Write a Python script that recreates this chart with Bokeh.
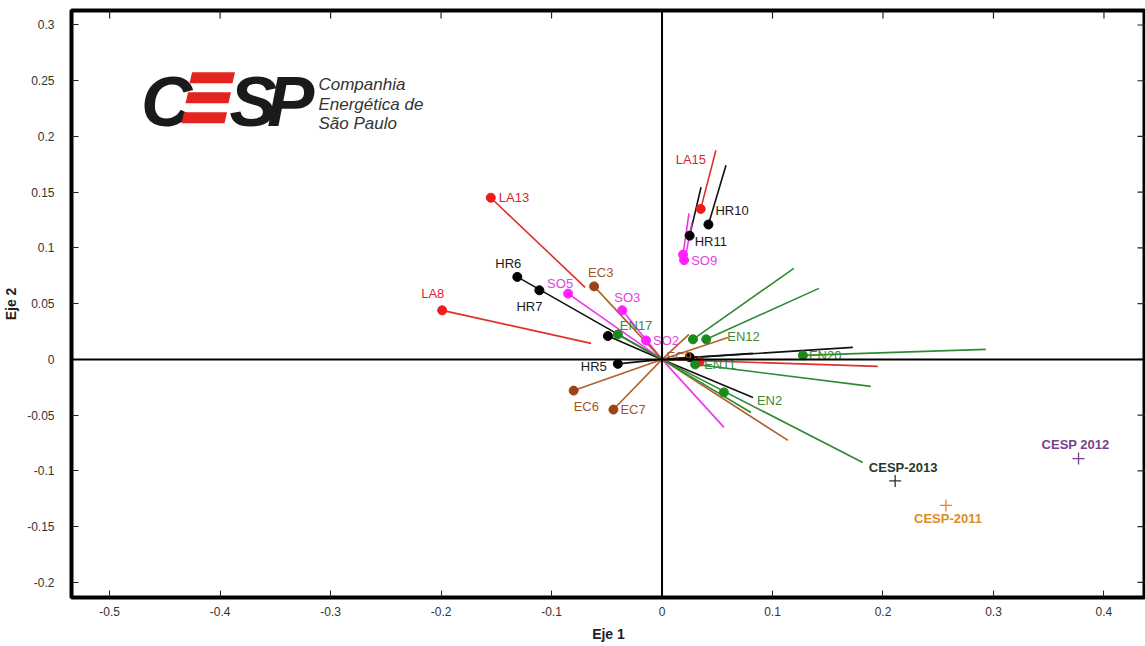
from bokeh.plotting import figure
from bokeh.models import Range1d, FixedTicker, Span, ColumnDataSource
from bokeh.core.properties import value
from bokeh.embed import file_html
from bokeh.resources import INLINE

# ---------------- data ----------------
x_ticks = [-0.5, -0.4, -0.3, -0.2, -0.1, 0, 0.1, 0.2, 0.3, 0.4]
x_tick_labels = ["-0.5", "-0.4", "-0.3", "-0.2", "-0.1", "0", "0.1", "0.2", "0.3", "0.4"]
y_ticks = [-0.2, -0.15, -0.1, -0.05, 0, 0.05, 0.1, 0.15, 0.2, 0.25, 0.3]
y_tick_labels = ["-0.2", "-0.15", "-0.1", "-0.05", "0", "0.05", "0.1", "0.15", "0.2", "0.25", "0.3"]

point_labels = ["LA13", "LA8", "LA15", "",
                "HR6", "HR7", "HR5", "HR10", "HR11", "", "",
                "SO5", "SO3", "SO2", "", "SO9",
                "EC3", "EC6", "EC7",
                "EN17", "", "EN12", "EN11", "EN20", "EN2"]
point_group = ["LA", "LA", "LA", "LA",
               "HR", "HR", "HR", "HR", "HR", "HR", "HR",
               "SO", "SO", "SO", "SO", "SO",
               "EC", "EC", "EC",
               "EN", "EN", "EN", "EN", "EN", "EN"]
point_x = [-0.155, -0.199, 0.035, 0.034,
           -0.131, -0.111, -0.040, 0.042, 0.025, -0.049, 0.025,
           -0.085, -0.036, -0.0145, 0.019, 0.020,
           -0.0615, -0.080, -0.044,
           -0.040, 0.028, 0.040, 0.030, 0.1275, 0.056]
point_y = [0.145, 0.044, 0.135, -0.002,
           0.074, 0.062, -0.004, 0.121, 0.111, 0.021, 0.002,
           0.059, 0.044, 0.017, 0.094, 0.089,
           0.0655, -0.028, -0.045,
           0.0224, 0.018, 0.018, -0.0045, 0.0036, -0.0296]

extra_labels = ["EC9"]
extra_group = ["EC"]
extra_x = [0.004]
extra_y = [0.003]

seg_group = ["LA", "LA", "LA", "LA",
             "HR", "HR", "HR", "HR", "HR", "HR", "HR", "HR",
             "SO", "SO", "SO", "SO", "SO", "SO",
             "EC", "EC", "EC", "EC", "EC", "EC",
             "EN", "EN", "EN", "EN", "EN", "EN", "EN"]
seg_x0 = [-0.155, -0.199, 0.035, 0.0,
          -0.131, -0.049, -0.040, 0.025, 0.042, 0.0, 0.0, 0.0,
          -0.085, -0.036, -0.0145, 0.0, 0.019, 0.0208,
          -0.0615, -0.080, -0.044, 0.0, 0.0, 0.0,
          -0.040, 0.028, 0.040, 0.1275, 0.030, 0.0, 0.0]
seg_y0 = [0.145, 0.044, 0.135, 0.0,
          0.074, 0.021, -0.004, 0.111, 0.121, 0.0, 0.0, 0.0,
          0.059, 0.044, 0.017, 0.0, 0.094, 0.0898,
          0.0655, -0.028, -0.045, 0.0, 0.0, 0.0,
          0.0224, 0.018, 0.018, 0.0036, -0.0045, 0.0, 0.0]
seg_x1 = [-0.0696, -0.0642, 0.0488, 0.1953,
          0.0, 0.0, 0.0, 0.0353, 0.0579, 0.1727, 0.0823, 0.0823,
          0.0, 0.0, 0.0, 0.0561, 0.0244, 0.0271,
          0.0, 0.0, 0.0, 0.0244, 0.0597, 0.114,
          0.0, 0.1193, 0.142, 0.293, 0.189, 0.0805, 0.1817]
seg_y1 = [0.0646, 0.0144, 0.1876, -0.0063,
          0.0, 0.0, 0.0, 0.1544, 0.1741, 0.0108, 0.0054, -0.0341,
          0.0, 0.0, 0.0, -0.061, 0.131, 0.123,
          0.0, 0.0, 0.0, 0.0224, 0.0197, -0.0727,
          0.0, 0.0817, 0.0637, 0.009, -0.0242, -0.0476, -0.0925]

cesp_labels = ["CESP-2011", "CESP 2012", "CESP-2013"]
cesp_x = [0.257, 0.377, 0.211]
cesp_y = [-0.131, -0.089, -0.109]

# ---------------- styles ----------------
line_colors = {"LA": "#e0302a", "HR": "#111111", "SO": "#ee33ee", "EC": "#b0602a", "EN": "#2f8a35"}
dot_colors = {"LA": "#ee1c1c", "HR": "#000000", "SO": "#ff22ff", "EC": "#9c4416", "EN": "#1b8a1b"}
text_colors = {"LA": "#d8262e", "HR": "#1a1a1a", "SO": "#dd44dd", "EC": "#a0582a", "EN": "#3c8a3c"}
cesp_colors = {"CESP-2011": "#de8c1e", "CESP 2012": "#7a3f8c", "CESP-2013": "#1f3a2a"}
cesp_text_colors = {"CESP-2011": "#de8c1e", "CESP 2012": "#7a3f8c", "CESP-2013": "#243a2c"}

label_offsets = {  # pixels (dx, dy) with dy positive downward
    "LA13": (8, 0), "LA8": (-21, -17), "LA15": (-25, -49),
    "HR6": (-22, -13), "HR7": (-23, 16), "HR5": (-37, 3), "HR10": (7, -14), "HR11": (5, 6),
    "SO5": (-21, -10), "SO3": (-8, -13), "SO2": (7, 0), "SO9": (7, 0),
    "EC3": (-6, -14), "EC6": (0, 16), "EC7": (7, 0), "EC9": (0, 0),
    "EN17": (2, -9), "EN12": (21, -3), "EN11": (9, 0), "EN20": (6, 0), "EN2": (33, 8),
}
cesp_offsets = {"CESP-2011": (2, 13), "CESP 2012": (-3, -14), "CESP-2013": (8, -13)}

FONT = "Liberation Sans"
X0, X1 = -0.5345, 0.4376
Y0, Y1 = -0.2136, 0.313
W, H = 1145, 646
FL, FB, FT = 70, 49, 10
TICK_PX = 8
px_x = (X1 - X0) / (W - FL)        # data units per pixel, horizontally
px_y = (Y1 - Y0) / (H - FB - FT)   # data units per pixel, vertically

p = figure(width=W, height=H, output_backend="svg", toolbar_location=None,
           x_range=Range1d(X0, X1), y_range=Range1d(Y0, Y1),
           min_border_left=FL, min_border_right=0, min_border_top=FT, min_border_bottom=FB,
           background_fill_color="white", border_fill_color="white")
p.grid.visible = False
p.outline_line_color = "black"
p.outline_line_width = 4

xt = FixedTicker(ticks=x_ticks)
yt = FixedTicker(ticks=y_ticks)

for ax in (p.xaxis[0], p.yaxis[0]):
    ax.axis_line_color = None
    ax.major_tick_in = 7
    ax.major_tick_out = 0
    ax.minor_tick_line_color = None
    ax.major_tick_line_color = "#222222"
    ax.major_label_text_font = FONT
    ax.major_label_text_font_size = "12px"
    ax.major_label_text_color = "#333333"
    ax.axis_label_text_font = FONT
    ax.axis_label_text_font_style = "bold"
    ax.axis_label_text_font_size = "14px"
    ax.axis_label_text_color = "#222222"

p.xaxis[0].ticker = xt
p.xaxis[0].major_label_overrides = {t: l for t, l in zip(x_ticks, x_tick_labels)}
p.xaxis[0].major_label_standoff = 9
p.xaxis[0].axis_label = "Eje 1"
p.xaxis[0].axis_label_standoff = 7
p.yaxis[0].ticker = yt
p.yaxis[0].major_label_overrides = {t: l for t, l in zip(y_ticks, y_tick_labels)}
p.yaxis[0].major_label_standoff = 17
p.yaxis[0].axis_label = "Eje 2"
p.yaxis[0].axis_label_standoff = 5

# inward ticks on the top and right edges of the frame (drawn from the tick arrays)
p.segment(x0=x_ticks, x1=x_ticks, y0=[Y1] * len(x_ticks), y1=[Y1 - TICK_PX * px_y] * len(x_ticks),
          line_color="#222222", line_width=1.2)
p.segment(x0=[X1] * len(y_ticks), x1=[X1 - TICK_PX * px_x] * len(y_ticks), y0=y_ticks, y1=y_ticks,
          line_color="#222222", line_width=1.2)

# zero axes
p.add_layout(Span(location=0, dimension="height", line_color="black", line_width=2))
p.add_layout(Span(location=0, dimension="width", line_color="black", line_width=2))

# ---------------- logo ----------------
p.text(x=[-0.4715, -0.3915, -0.3575], y=[0.2314] * 3, text=["C", "S", "P"], text_font=value(FONT),
       text_font_style="bold italic", text_font_size="71px", text_color="#1a1a1a",
       text_baseline="alphabetic", text_align="left")
bar_xs = [[-0.4277, -0.3888, -0.3865, -0.4254],
          [-0.4313, -0.3924, -0.3901, -0.4290],
          [-0.4349, -0.3960, -0.3937, -0.4326]]
bar_ys = [[0.2478, 0.2478, 0.2576, 0.2576],
          [0.2298, 0.2298, 0.2397, 0.2397],
          [0.2118, 0.2118, 0.2217, 0.2217]]
p.patches(xs=bar_xs, ys=bar_ys, fill_color="#e3231f", line_color=None)
p.text(x=[-0.3110] * 3, y=[0.2469, 0.2289, 0.2119],
       text=["Companhia", "Energética de", "São Paulo"], text_font=value(FONT),
       text_font_style="italic", text_font_size="17px", text_color="#333333",
       text_baseline="alphabetic", text_align="left")

# ---------------- segments ----------------
seg_src = ColumnDataSource(dict(x0=seg_x0, y0=seg_y0, x1=seg_x1, y1=seg_y1,
                                color=[line_colors[g] for g in seg_group]))
p.segment(x0="x0", y0="y0", x1="x1", y1="y1", line_color="color", line_width=1.6, source=seg_src)

# ---------------- points ----------------
pt_src = ColumnDataSource(dict(x=point_x, y=point_y,
                               color=[dot_colors[g] for g in point_group]))
p.scatter(x="x", y="y", size=9, fill_color="color", line_color="color", source=pt_src)

lab = [(l, g, x, y) for l, g, x, y in zip(point_labels, point_group, point_x, point_y) if l]
lab += list(zip(extra_labels, extra_group, extra_x, extra_y))
lab_src = ColumnDataSource(dict(
    x=[t[2] for t in lab], y=[t[3] for t in lab], text=[t[0] for t in lab],
    color=[text_colors[t[1]] for t in lab],
    dx=[label_offsets[t[0]][0] for t in lab], dy=[label_offsets[t[0]][1] for t in lab]))
p.text(x="x", y="y", text="text", text_color="color", x_offset="dx", y_offset="dy",
       text_font=value(FONT), text_font_size="13px", text_baseline="middle",
       text_align="left", source=lab_src)

# ---------------- CESP years ----------------
c_src = ColumnDataSource(dict(x=cesp_x, y=cesp_y, text=cesp_labels,
                              color=[cesp_colors[c] for c in cesp_labels],
                              tcolor=[cesp_text_colors[c] for c in cesp_labels],
                              dx=[cesp_offsets[c][0] for c in cesp_labels],
                              dy=[cesp_offsets[c][1] for c in cesp_labels]))
p.scatter(x="x", y="y", marker="cross", size=12, line_color="color", line_width=1.3, source=c_src)
p.text(x="x", y="y", text="text", text_color="tcolor", x_offset="dx", y_offset="dy",
       text_font=value(FONT), text_font_style="bold", text_font_size="13px",
       text_baseline="middle", text_align="center", source=c_src)

open("out.html", "w").write(file_html(p, INLINE))
